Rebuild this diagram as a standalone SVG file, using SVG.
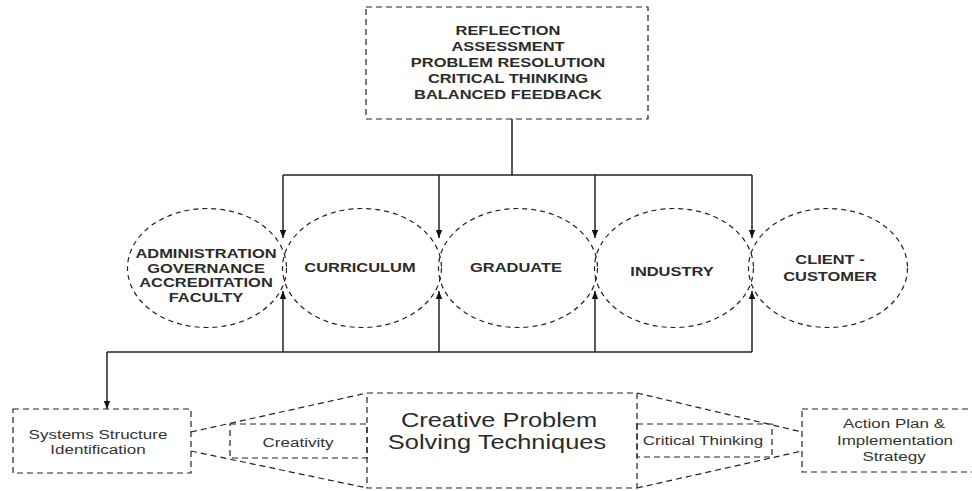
<svg xmlns="http://www.w3.org/2000/svg" width="972" height="491" viewBox="0 0 972 491">
  <style>
    .box { fill: none; stroke: #222; stroke-width: 1.2; stroke-dasharray: 6 4; }
    .oval { fill: none; stroke: #222; stroke-width: 1.2; stroke-dasharray: 5 4; }
    .wire { fill: none; stroke: #222; stroke-width: 1.5; }
    .bold { font-family: "Liberation Sans", Arial, sans-serif; font-weight: bold; font-size: 12px; fill: #2b2b2b; text-anchor: middle; }
    .small { font-family: "Liberation Sans", Arial, sans-serif; font-size: 12.5px; fill: #333; text-anchor: middle; }
    .large { font-family: "Liberation Sans", Arial, sans-serif; font-size: 21px; fill: #2b2b2b; text-anchor: middle; }
  </style>
  <defs>
    <marker id="arrow" viewBox="0 0 10 10" refX="10" refY="5" markerWidth="8" markerHeight="8" markerUnits="userSpaceOnUse" orient="auto">
      <path d="M0,1 L10,5 L0,9 z" fill="#111"/>
    </marker>
  </defs>
  <rect width="972" height="491" fill="#fff"/>

  <!-- feedback box -->
  <g id="feedback">
    <rect class="box" x="366" y="7" width="282" height="112"/>
    <text class="bold" transform="translate(508 34.5) scale(1.37 1)">REFLECTION</text>
    <text class="bold" transform="translate(508 50.5) scale(1.37 1)">ASSESSMENT</text>
    <text class="bold" transform="translate(508 66.5) scale(1.37 1)">PROBLEM RESOLUTION</text>
    <text class="bold" transform="translate(508 82.5) scale(1.37 1)">CRITICAL THINKING</text>
    <text class="bold" transform="translate(508 98.5) scale(1.37 1)">BALANCED FEEDBACK</text>
  </g>

  <!-- stakeholder ovals -->
  <g id="administration">
    <ellipse class="oval" cx="207" cy="268" rx="79.5" ry="59.5"/>
    <text class="bold" transform="translate(206 258) scale(1.37 1)">ADMINISTRATION</text>
    <text class="bold" transform="translate(206 272.5) scale(1.37 1)">GOVERNANCE</text>
    <text class="bold" transform="translate(206 287) scale(1.37 1)">ACCREDITATION</text>
    <text class="bold" transform="translate(206 302) scale(1.37 1)">FACULTY</text>
  </g>
  <g id="curriculum">
    <ellipse class="oval" cx="362" cy="268" rx="79.5" ry="59.5"/>
    <text class="bold" transform="translate(360 271.5) scale(1.37 1)">CURRICULUM</text>
  </g>
  <g id="graduate">
    <ellipse class="oval" cx="518" cy="268" rx="79.5" ry="59.5"/>
    <text class="bold" transform="translate(516 271.5) scale(1.37 1)">GRADUATE</text>
  </g>
  <g id="industry">
    <ellipse class="oval" cx="674" cy="268" rx="79.5" ry="59.5"/>
    <text class="bold" transform="translate(672 276) scale(1.37 1)">INDUSTRY</text>
  </g>
  <g id="client">
    <ellipse class="oval" cx="828" cy="268" rx="79.5" ry="59.5"/>
    <text class="bold" transform="translate(830 263.5) scale(1.37 1)">CLIENT -</text>
    <text class="bold" transform="translate(830 280.5) scale(1.37 1)">CUSTOMER</text>
  </g>

  <!-- problem solving chain -->
  <g id="systems">
    <rect class="box" x="13" y="409" width="178" height="64"/>
    <text class="small" transform="translate(98 438.5) scale(1.36 1)">Systems Structure</text>
    <text class="small" transform="translate(98 453.5) scale(1.36 1)">Identification</text>
  </g>
  <g id="funnel">
    <path class="box" d="M191,432 L367,393 M191,451 L367,488"/>
    <path class="box" d="M637,393 L802,432 M637,488 L802,451"/>
  </g>
  <g id="creativity">
    <rect class="box" x="230" y="424" width="137" height="34"/>
    <text class="small" transform="translate(298 446.5) scale(1.36 1)">Creativity</text>
  </g>
  <g id="techniques">
    <rect class="box" x="367" y="393" width="270" height="95"/>
    <text class="large" transform="translate(499 426.5) scale(1.21 1)">Creative Problem</text>
    <text class="large" transform="translate(497 448.5) scale(1.21 1)">Solving Techniques</text>
  </g>
  <g id="critical-thinking">
    <rect class="box" x="637" y="424" width="135" height="33"/>
    <text class="small" transform="translate(703 445) scale(1.36 1)">Critical Thinking</text>
  </g>
  <g id="action-plan">
    <rect class="box" x="802" y="409" width="176" height="63"/>
    <text class="small" transform="translate(894 427.5) scale(1.36 1)">Action Plan &amp;</text>
    <text class="small" transform="translate(895 444.5) scale(1.36 1)">Implementation</text>
    <text class="small" transform="translate(894 460.5) scale(1.36 1)">Strategy</text>
  </g>

  <!-- connectors -->
  <g id="connectors">
    <path class="wire" d="M512,119 V175 M283,175 H752"/>
    <path class="wire" d="M283,175 V238" marker-end="url(#arrow)"/>
    <path class="wire" d="M439,175 V238" marker-end="url(#arrow)"/>
    <path class="wire" d="M595,175 V238" marker-end="url(#arrow)"/>
    <path class="wire" d="M752,175 V238" marker-end="url(#arrow)"/>
    <path class="wire" d="M107,352 H752"/>
    <path class="wire" d="M283,352 V291" marker-end="url(#arrow)"/>
    <path class="wire" d="M439,352 V291" marker-end="url(#arrow)"/>
    <path class="wire" d="M595,352 V291" marker-end="url(#arrow)"/>
    <path class="wire" d="M752,352 V291" marker-end="url(#arrow)"/>
    <path class="wire" d="M107,352 V409" marker-end="url(#arrow)"/>
  </g>
</svg>
